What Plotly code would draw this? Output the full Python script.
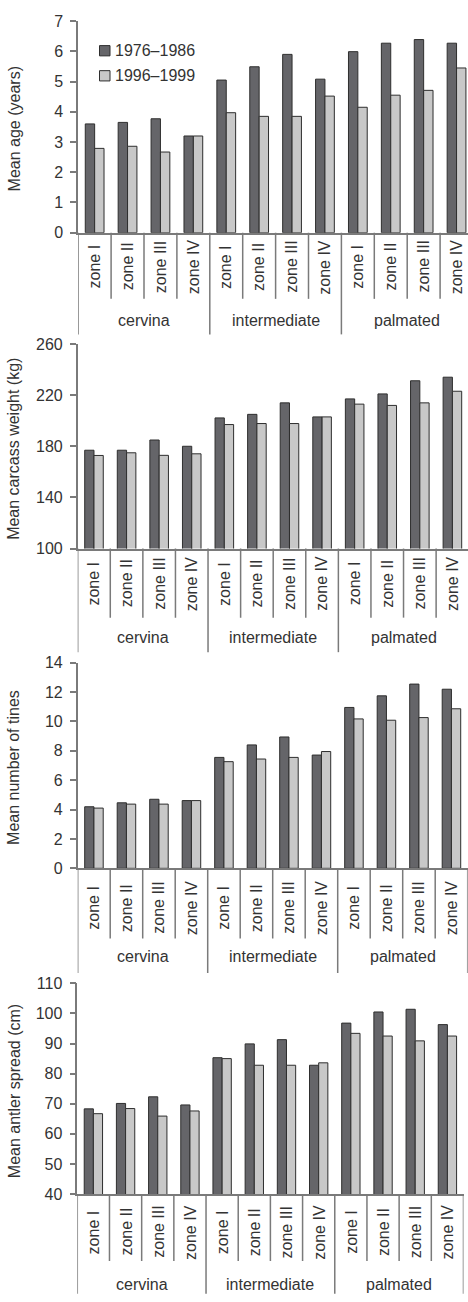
import plotly.graph_objects as go

W, H = 468, 1302

groups = ["cervina", "intermediate", "palmated"]
zones = ["zone I", "zone II", "zone III", "zone IV"]
series_names = ["1976–1986", "1996–1999"]

age_7686 = [3.60, 3.65, 3.77, 3.20, 5.05, 5.49, 5.90, 5.08, 5.99, 6.27, 6.39, 6.27]
age_9699 = [2.79, 2.86, 2.67, 3.20, 3.97, 3.85, 3.85, 4.52, 4.15, 4.55, 4.71, 5.45]

weight_7686 = [177.0, 177.0, 185.0, 180.1, 202.3, 205.1, 214.1, 203.1, 217.2, 221.1, 231.4, 234.2]
weight_9699 = [172.9, 175.0, 173.0, 174.2, 197.1, 197.9, 197.9, 203.1, 213.1, 212.1, 214.1, 223.2]

tines_7686 = [4.19, 4.46, 4.70, 4.61, 7.55, 8.40, 8.94, 7.71, 10.95, 11.74, 12.54, 12.19]
tines_9699 = [4.10, 4.37, 4.37, 4.61, 7.26, 7.44, 7.55, 7.95, 10.17, 10.08, 10.26, 10.86]

spread_7686 = [68.3, 70.1, 72.3, 69.6, 85.3, 89.9, 91.3, 82.8, 96.8, 100.5, 101.4, 96.3]
spread_9699 = [66.7, 68.4, 65.9, 67.6, 85.0, 82.8, 82.8, 83.6, 93.4, 92.5, 90.9, 92.5]

y_titles = ["Mean age (years)", "Mean carcass weight (kg)", "Mean number of tines", "Mean antler spread (cm)"]

DARK = "#656569"
LIGHT = "#c8c8c8"
EDGE = "#2e2e2e"
AXC = "#7a7a7a"
TXT = "#333333"
FONT = "Liberation Sans, Arial, sans-serif"

panels = [
    dict(top=13.3, bot=227.7, left=78.2, right=473.0, yr=(0, 7), dt=1, short=67, zl=34.5, gl=89, long=103,
         d1=age_7686, d2=age_9699),
    dict(top=340.7, bot=547.7, left=77.7, right=468.7, yr=(100, 260), dt=40, short=70, zl=35.5, gl=90, long=105,
         d1=weight_7686, d2=weight_9699),
    dict(top=663.3, bot=871.7, left=77.7, right=467.7, yr=(0, 14), dt=2, short=71, zl=40, gl=89.5, long=106,
         d1=tines_7686, d2=tines_9699),
    dict(top=988.3, bot=1201.7, left=77.3, right=463.5, yr=(40, 110), dt=10, short=68, zl=38.5, gl=92, long=101,
         d1=spread_7686, d2=spread_9699),
]


def py(px):
    return 1 - px / H


def pxx(px):
    return px / W


fig = go.Figure()
shapes = []
annotations = []
xs = list(range(len(groups) * len(zones)))

for i, p in enumerate(panels):
    n = i + 1
    xa = "x" if n == 1 else f"x{n}"
    ya = "y" if n == 1 else f"y{n}"
    right_vis = min(p["right"], W)
    cat_w = (p["right"] - p["left"]) / 12.0
    xmax = -0.5 + (right_vis - p["left"]) / cat_w

    for vals, color, name in [(p["d1"], DARK, series_names[0]), (p["d2"], LIGHT, series_names[1])]:
        fig.add_trace(go.Bar(
            x=xs, y=vals, name=name, xaxis=xa, yaxis=ya, showlegend=False,
            marker=dict(color=color, line=dict(color=EDGE, width=1)),
        ))

    fig.layout[("xaxis" if n == 1 else f"xaxis{n}")] = dict(
        domain=[pxx(p["left"]), pxx(right_vis)], range=[-0.5, xmax], anchor=ya,
        showticklabels=False, ticks="", showgrid=False, zeroline=False,
        showline=True, linecolor=AXC, linewidth=1.5,
    )
    fig.layout[("yaxis" if n == 1 else f"yaxis{n}")] = dict(
        domain=[py(p["bot"]), py(p["top"])], range=list(p["yr"]), anchor=xa,
        dtick=p["dt"], tick0=p["yr"][0], ticks="outside", ticklen=6, tickwidth=1.5, tickcolor=AXC,
        showline=True, linecolor=AXC, linewidth=1.5, showgrid=False, zeroline=False,
        tickfont=dict(family=FONT, size=16, color=TXT), ticklabelstandoff=4,
    )

    # separators
    for b in range(13):
        bx = b - 0.5
        if bx > xmax:
            continue
        is_long = (b % 4 == 0)
        length = p["long"] if is_long else p["short"]
        shapes.append(dict(type="line", xref=xa, yref="paper", x0=bx, x1=bx,
                           y0=py(p["bot"]), y1=py(p["bot"] + length),
                           line=dict(color=AXC, width=1.5)))

    # zone labels
    for k in xs:
        annotations.append(dict(x=k, y=py(p["bot"] + p["zl"]), xref=xa, yref="paper",
                                text=zones[k % 4], textangle=-90, showarrow=False,
                                xanchor="center", yanchor="middle",
                                font=dict(family=FONT, size=16, color=TXT)))
    # group labels
    for g, gname in enumerate(groups):
        annotations.append(dict(x=g * 4 + 1.5, y=py(p["bot"] + p["gl"]), xref=xa, yref="paper",
                                text=gname, showarrow=False, xanchor="center", yanchor="middle",
                                font=dict(family=FONT, size=16, color=TXT)))
    # y title
    annotations.append(dict(x=pxx(14), y=py((p["top"] + p["bot"]) / 2 + 2.5), xref="paper", yref="paper",
                            text=y_titles[i], textangle=-90, showarrow=False,
                            xanchor="center", yanchor="middle",
                            font=dict(family=FONT, size=16, color=TXT)))

# legend (manual, in the first panel)
leg = [(DARK, series_names[0], 43.3), (LIGHT, series_names[1], 68.7)]
for color, name, cy in leg:
    shapes.append(dict(type="rect", xref="paper", yref="paper",
                       x0=pxx(99.5), x1=pxx(110), y0=py(cy - 5.2), y1=py(cy + 5.2),
                       fillcolor=color, line=dict(color=EDGE, width=1)))
    annotations.append(dict(x=pxx(113), y=py(cy), xref="paper", yref="paper", text=name,
                            showarrow=False, xanchor="left", yanchor="middle",
                            font=dict(family=FONT, size=16, color=TXT)))

fig.update_layout(
    width=W, height=H, margin=dict(l=0, r=0, t=0, b=0),
    paper_bgcolor="white", plot_bgcolor="white",
    barmode="group", bargap=0.43, bargroupgap=0,
    shapes=shapes, annotations=annotations, showlegend=False,
    font=dict(family=FONT, size=16, color=TXT),
)

fig.write_html(
    "out.html",
    config={"displayModeBar": False},
    post_script="document.body.style.margin='0';document.body.style.padding='0';document.body.style.overflow='hidden';",
)
